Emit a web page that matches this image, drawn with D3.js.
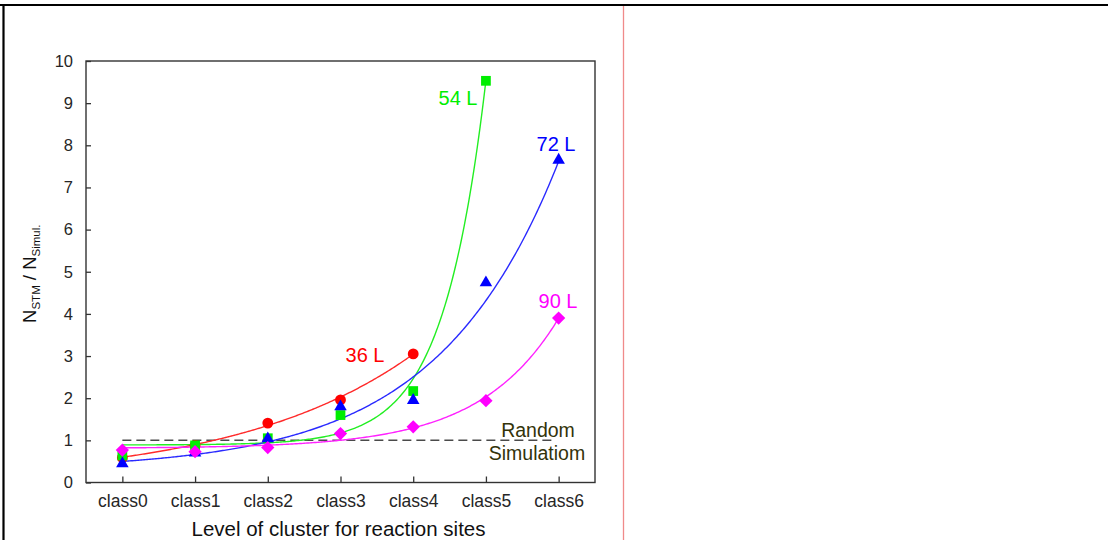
<!DOCTYPE html>
<html>
<head>
<meta charset="utf-8">
<script src="https://cdn.jsdelivr.net/npm/d3@7/dist/d3.min.js"></script>
<style>
  html, body { margin: 0; padding: 0; background: #fff; }
  svg { display: block; font-family: "Liberation Sans", Arial, sans-serif; }
</style>
</head>
<body>
<svg id="chart" width="1108" height="540"></svg>
<script>
// Cluster-level categories and y ticks
const categories = ["class0", "class1", "class2", "class3", "class4", "class5", "class6"];
const yTicks = [0, 1, 2, 3, 4, 5, 6, 7, 8, 9, 10];

// Measured ratios N_STM / N_Simul. per volume
const ratio36 = [0.59, 0.88, 1.41, 1.96, 3.05];
const ratio54 = [0.64, 0.88, 1.05, 1.60, 2.17, 9.53];
const ratio72 = [0.45, 0.70, 1.04, 1.80, 1.95, 4.74, 7.65];
const ratio90 = [0.77, 0.73, 0.83, 1.16, 1.32, 1.94, 3.90];

// Exponential fits  y = base + scale * exp(rate * x)
const fitBase  = [0.00, 0.89, 0.30, 0.81];
const fitScale = [0.60, 0.001717, 0.20, 0.012];
const fitRate  = [0.406, 1.705, 0.60, 0.925];

const seriesNames = ["36 L", "54 L", "72 L", "90 L"];
const randomLevel = 1;

const series = [
  { name: seriesNames[0], values: ratio36, color: "#ff0000", line: "#ff2a2a", shape: "circle",  lx: 365, ly: 362, fit: 0 },
  { name: seriesNames[1], values: ratio54, color: "#00ee00", line: "#22ee22", shape: "square",  lx: 458, ly: 105, fit: 1 },
  { name: seriesNames[2], values: ratio72, color: "#0000ff", line: "#2a2aff", shape: "triangle", lx: 556, ly: 151, fit: 2 },
  { name: seriesNames[3], values: ratio90, color: "#ff00ff", line: "#ff22ff", shape: "diamond", lx: 558, ly: 308, fit: 3 }
];

const svg = d3.select("#chart");

// Page frame: top rule, left rule and the light red column divider
svg.append("line").attr("x1", 0).attr("x2", 1108).attr("y1", 5).attr("y2", 5)
  .attr("stroke", "#000").attr("stroke-width", 2.2);
svg.append("line").attr("x1", 3.5).attr("x2", 3.5).attr("y1", 5).attr("y2", 540)
  .attr("stroke", "#000").attr("stroke-width", 2.2);
svg.append("line").attr("x1", 623.5).attr("x2", 623.5).attr("y1", 6).attr("y2", 540)
  .attr("stroke", "#f08a8a").attr("stroke-width", 1.3);

const plotLeft = 86, plotRight = 595, plotTop = 61, plotBottom = 482.5;

const x = d3.scaleLinear().domain([-0.5, categories.length - 0.5]).range([plotLeft, plotRight]);
const y = d3.scaleLinear().domain([0, 10]).range([plotBottom, plotTop]);

const plot = svg.append("g");

// Plot box
plot.append("rect").attr("x", plotLeft).attr("y", plotTop)
  .attr("width", plotRight - plotLeft).attr("height", plotBottom - plotTop)
  .attr("fill", "none").attr("stroke", "#333").attr("stroke-width", 1.4);

// Left axis with inward ticks
const yAxis = d3.axisLeft(y).tickValues(yTicks).tickSize(-5).tickPadding(13).tickFormat(d3.format("d"));
const gy = plot.append("g").attr("transform", `translate(${plotLeft},0)`).call(yAxis);
gy.select(".domain").remove();
gy.selectAll(".tick line").attr("stroke", "#333").attr("stroke-width", 1.3);
gy.selectAll(".tick text").attr("font-size", 16.5).attr("fill", "#262626")
  .attr("font-family", "Liberation Sans, Arial, sans-serif");

// Bottom axis with inward ticks
const xAxis = d3.axisBottom(x).tickValues(d3.range(categories.length))
  .tickSize(-6).tickPadding(12).tickFormat(i => categories[i]);
const gx = plot.append("g").attr("transform", `translate(0,${plotBottom})`).call(xAxis);
gx.select(".domain").remove();
gx.selectAll(".tick line").attr("stroke", "#333").attr("stroke-width", 1.3);
gx.selectAll(".tick text").attr("font-size", 17.5).attr("fill", "#262626")
  .attr("font-family", "Liberation Sans, Arial, sans-serif");

// Axis titles
svg.append("text").attr("x", (plotLeft + plotRight) / 2 - 2).attr("y", 535.5)
  .attr("text-anchor", "middle").attr("font-size", 20.5).attr("fill", "#111")
  .text("Level of cluster for reaction sites");

const yt = svg.append("text").attr("transform", `translate(36,${(plotTop + plotBottom) / 2 + 2}) rotate(-90)`)
  .attr("text-anchor", "middle").attr("font-size", 18.5).attr("fill", "#111");
yt.append("tspan").text("N");
yt.append("tspan").attr("font-size", 11.5).attr("dy", 4).text("STM");
yt.append("tspan").attr("dy", -4).text(" / N");
yt.append("tspan").attr("font-size", 11.5).attr("dy", 4).text("Simul.");

// Random simulation reference
plot.append("line").attr("x1", x(0)).attr("x2", x(5.93))
  .attr("y1", y(randomLevel)).attr("y2", y(randomLevel))
  .attr("stroke", "#4a4a4a").attr("stroke-width", 1.5).attr("stroke-dasharray", "9,5");
plot.append("text").attr("x", 538).attr("y", 437).attr("text-anchor", "middle")
  .attr("font-size", 19.5).attr("fill", "#33330a").text("Random");
plot.append("text").attr("x", 537).attr("y", 460).attr("text-anchor", "middle")
  .attr("font-size", 19.5).attr("fill", "#33330a").text("Simulatiom");

// Fitted curves
const line = d3.line().x(d => x(d[0])).y(d => y(d[1])).curve(d3.curveLinear);
series.forEach(s => {
  const k = s.fit;
  const last = s.values.length - 1;
  const pts = d3.range(0, last + 0.0001, 0.02).map(t => [t, fitBase[k] + fitScale[k] * Math.exp(fitRate[k] * t)]);
  plot.append("path").datum(pts).attr("d", line)
    .attr("fill", "none").attr("stroke", s.line).attr("stroke-width", 1.4);
});

// Markers: circle, square, triangle and a square turned 45° for the diamond
const symbolType = { circle: d3.symbolCircle, square: d3.symbolSquare, triangle: d3.symbolTriangle, diamond: d3.symbolSquare };
const symbolSize = { circle: 92, square: 95, triangle: 68, diamond: 88 };
series.forEach(s => {
  plot.append("g").selectAll("path").data(s.values).join("path")
    .attr("transform", (d, i) => `translate(${x(i)},${y(d)})` + (s.shape === "diamond" ? " rotate(45)" : ""))
    .attr("d", d3.symbol().type(symbolType[s.shape]).size(symbolSize[s.shape]))
    .attr("fill", s.color);
});

// Series labels
series.forEach(s => {
  plot.append("text").attr("x", s.lx).attr("y", s.ly).attr("text-anchor", "middle")
    .attr("font-size", 20).attr("fill", s.color).text(s.name);
});
</script>
</body>
</html>
